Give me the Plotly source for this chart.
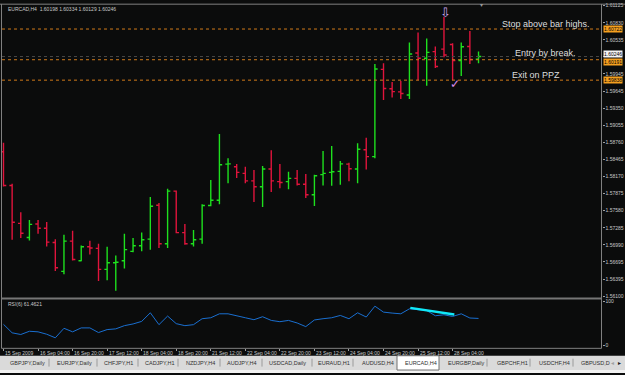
import plotly.graph_objects as go

W, H = 625, 375

# ---------------- data ----------------
bar_open = [1.58600, 1.58016, 1.57362, 1.57117, 1.57350, 1.57277, 1.57031, 1.56532, 1.57055, 1.56714,
            1.56958, 1.56929, 1.56566, 1.56680, 1.56714, 1.56878, 1.56975, 1.57089, 1.57675, 1.57009,
            1.57919, 1.57202, 1.57009, 1.57089, 1.57670, 1.57760, 1.58386, 1.58340, 1.58226, 1.58096,
            1.57994, 1.58301, 1.58084, 1.58084, 1.58140, 1.58038, 1.57857, 1.58204, 1.58243, 1.58260,
            1.58386, 1.58301, 1.58635, 1.58516, 1.60024, 1.59690, 1.59636, 1.59580, 1.60307, 1.60217,
            1.60331, 1.60375, 1.60455, 1.60177, 1.60421, 1.60198]
bar_high = [1.58755, 1.58045, 1.57555, 1.57419, 1.57419, 1.57385, 1.57089, 1.57163, 1.57236, 1.56980,
            1.57060, 1.57009, 1.56958, 1.56805, 1.57180, 1.57107, 1.57202, 1.57816, 1.57714, 1.57960,
            1.57931, 1.57350, 1.57248, 1.57692, 1.58113, 1.58908, 1.58488, 1.58386, 1.58340, 1.58284,
            1.58352, 1.58625, 1.58386, 1.58255, 1.58284, 1.58215, 1.58204, 1.58613, 1.58698, 1.58442,
            1.58408, 1.58749, 1.58840, 1.60119, 1.60131, 1.59807, 1.59824, 1.60490, 1.60660, 1.60558,
            1.60421, 1.60933, 1.60478, 1.60490, 1.60689, 1.60334]
bar_low = [1.57999, 1.57078, 1.57107, 1.57066, 1.57180, 1.56963, 1.56537, 1.56480, 1.56719, 1.56707,
           1.56822, 1.56366, 1.56378, 1.56196, 1.56583, 1.56861, 1.56878, 1.56907, 1.56936, 1.56936,
           1.57192, 1.56992, 1.56963, 1.57009, 1.57658, 1.57692, 1.58055, 1.58147, 1.58055, 1.57731,
           1.57646, 1.57902, 1.57970, 1.57953, 1.58016, 1.57799, 1.57663, 1.58016, 1.58011, 1.58028,
           1.58089, 1.58055, 1.58294, 1.58488, 1.59495, 1.59539, 1.59512, 1.59512, 1.59836, 1.59739,
           1.60046, 1.60234, 1.59836, 1.59910, 1.60119, 1.60129]
bar_close = [1.58016, 1.57380, 1.57192, 1.57345, 1.57277, 1.57038, 1.56595, 1.57055, 1.56736, 1.56958,
             1.56936, 1.56566, 1.56680, 1.56690, 1.56907, 1.56975, 1.57078, 1.57658, 1.57009, 1.57919,
             1.57202, 1.57009, 1.57078, 1.57670, 1.57760, 1.58374, 1.58391, 1.58243, 1.58096, 1.57994,
             1.58301, 1.58096, 1.58067, 1.58140, 1.58038, 1.57857, 1.58186, 1.58226, 1.58255, 1.58391,
             1.58306, 1.58642, 1.58516, 1.60030, 1.59693, 1.59640, 1.59607, 1.60290, 1.60217, 1.60319,
             1.60075, 1.60273, 1.60177, 1.60416, 1.60194, 1.60246]
rsi_values = [48.1, 29.0, 25.2, 32.5, 31.2, 25.8, 17.8, 39.2, 31.2, 40.1,
              40.1, 29.6, 36.3, 37.9, 45.2, 49.0, 54.8, 74.2, 47.4, 66.8,
              49.7, 45.2, 47.4, 60.8, 63.0, 71.9, 71.9, 68.2, 63.0, 58.6,
              65.3, 57.0, 54.1, 57.0, 51.2, 43.0, 58.0, 60.8, 63.0, 68.2,
              60.8, 74.2, 64.6, 89.1, 75.7, 73.5, 71.9, 83.1, 80.8, 79.3,
              67.5, 69.7, 65.9, 71.9, 62.4, 61.46]
bars = list(range(len(bar_open)))

time_tick_bars = [0, 4, 8, 12, 16, 20, 24, 28, 32, 36, 40, 44, 48, 52]
time_tick_labels = ["15 Sep 2009", "16 Sep 04:00", "16 Sep 20:00", "17 Sep 12:00", "18 Sep 04:00",
                    "18 Sep 20:00", "21 Sep 12:00", "22 Sep 04:00", "22 Sep 20:00", "23 Sep 12:00",
                    "24 Sep 04:00", "24 Sep 20:00", "25 Sep 12:00", "28 Sep 04:00"]
price_ticks = [1.61125, 1.60830, 1.60535, 1.60240, 1.59945, 1.59645, 1.59350, 1.59055, 1.58760,
               1.58465, 1.58170, 1.57875, 1.57580, 1.57285, 1.56990, 1.56695, 1.56395, 1.56100]
# the 1.60240 label is covered by the bid-price tag in the screenshot
price_tick_text = ["1.61125", "1.60830", "1.60535", "", "1.59945", "1.59645", "1.59350", "1.59055",
                   "1.58760", "1.58465", "1.58170", "1.57875", "1.57580", "1.57285", "1.56990",
                   "1.56695", "1.56395", "1.56100"]

hline_levels = [1.60722, 1.60191, 1.59838]
bid_price = 1.60246
rsi_trend_x = [47.1, 52.2]
rsi_trend_y = [85.3, 70.4]

tab_names = ["GBPJPY,Daily", "EURJPY,Daily", "CHFJPY,H1", "CADJPY,H1", "NZDJPY,H4", "AUDJPY,H4",
             "USDCAD,Daily", "EURAUD,H1", "AUDUSD,H4", "EURCAD,H4", "EURGBP,Daily", "GBPCHF,H1",
             "USDCHF,H4", "GBPUSD,D"]
tab_x = [8, 55, 102, 143, 184, 225, 267, 316, 360, 403, 446, 495, 537, 579]
tab_sep_x = [49, 97, 138, 178, 220, 262, 312, 353, 487, 530, 573]

# ---------------- helpers (pixel -> paper) ----------------
def pxx(x):
    return x / W

def pxy(y):
    return 1 - y / H

BG = "#0b0c0c"
GRID = "#808080"
TXT = "#c8c8c8"
FONT = "Liberation Sans, Arial, sans-serif"

fig = go.Figure()
fig.add_trace(go.Ohlc(
    x=bars, open=bar_open, high=bar_high, low=bar_low, close=bar_close,
    increasing=dict(line=dict(color="#1ee01e", width=1.4)),
    decreasing=dict(line=dict(color="#e0143c", width=1.4)),
    tickwidth=0.32, xaxis="x", yaxis="y", hoverinfo="skip", showlegend=False))
fig.add_trace(go.Scatter(x=bars, y=rsi_values, mode="lines", xaxis="x2", yaxis="y2",
                         line=dict(color="#1a6fd0", width=1), hoverinfo="skip", showlegend=False))
fig.add_trace(go.Scatter(x=rsi_trend_x, y=rsi_trend_y, mode="lines", xaxis="x2", yaxis="y2",
                         line=dict(color="#10e8f8", width=2.5), hoverinfo="skip", showlegend=False))

xr = [-0.174, 69.24]
xdom = [pxx(2), pxx(601.5)]
fig.update_layout(
    width=W, height=H, margin=dict(l=0, r=0, t=0, b=0),
    paper_bgcolor=BG, plot_bgcolor=BG,
    font=dict(family=FONT, color=TXT, size=5),
    xaxis=dict(domain=xdom, range=xr, showgrid=False, zeroline=False, showticklabels=False,
               rangeslider=dict(visible=False), anchor="y", fixedrange=True),
    yaxis=dict(domain=[pxy(298.5), pxy(2)], range=[1.560795, 1.611378], side="right",
               showgrid=False, zeroline=False, tickvals=price_ticks,
               ticktext=price_tick_text, ticks="outside", ticklen=2,
               tickcolor="#a0a0a0", tickfont=dict(size=5, color=TXT, family=FONT), anchor="x"),
    xaxis2=dict(domain=xdom, range=xr, showgrid=False, zeroline=False, showticklabels=False,
                ticks="outside", ticklen=2, tickcolor="#a0a0a0", tickvals=time_tick_bars,
                anchor="y2"),
    yaxis2=dict(domain=[pxy(349.5), pxy(300.5)], range=[-4.9, 104.2], side="right",
                showgrid=False, zeroline=False, tickvals=[0, 100], ticktext=["0", "100"],
                ticks="outside", ticklen=2, tickcolor="#a0a0a0",
                tickfont=dict(size=5, color=TXT, family=FONT), anchor="x2"),
)

shapes = []
# horizontal dotted lines
for lv in hline_levels:
    shapes.append(dict(type="line", xref="paper", yref="y", x0=pxx(2), x1=pxx(601.5), y0=lv, y1=lv,
                       line=dict(color="#d07a1a", width=1, dash="dot")))
shapes.append(dict(type="line", xref="paper", yref="y", x0=pxx(2), x1=pxx(601.5), y0=bid_price,
                   y1=bid_price, line=dict(color="#4a4a4a", width=1, dash="dot")))
# frame
shapes += [
    dict(type="line", xref="paper", yref="paper", x0=0, x1=1, y0=pxy(1.2), y1=pxy(1.2),
         line=dict(color=GRID, width=1)),
    dict(type="line", xref="paper", yref="paper", x0=pxx(1.5), x1=pxx(1.5), y0=pxy(1), y1=pxy(350),
         line=dict(color=GRID, width=1)),
    dict(type="line", xref="paper", yref="paper", x0=pxx(601.5), x1=pxx(601.5), y0=pxy(1),
         y1=pxy(350), line=dict(color=GRID, width=1)),
    dict(type="rect", xref="paper", yref="paper", x0=pxx(1.5), x1=pxx(601.5), y0=pxy(300.6),
         y1=pxy(298.4), fillcolor="#767676", line=dict(width=0)),
    dict(type="line", xref="paper", yref="paper", x0=pxx(1.5), x1=pxx(601.5), y0=pxy(350),
         y1=pxy(350), line=dict(color=GRID, width=1)),
    # tab bar
    dict(type="rect", xref="paper", yref="paper", x0=0, x1=1, y0=pxy(375), y1=pxy(357.5),
         fillcolor="#dadada", line=dict(width=0)),
    dict(type="rect", xref="paper", yref="paper", x0=0, x1=1, y0=pxy(375), y1=pxy(372),
         fillcolor="#f2f2f2", line=dict(width=0)),
    dict(type="rect", xref="paper", yref="paper", x0=pxx(397), x1=pxx(439), y0=pxy(372),
         y1=pxy(357.5), fillcolor="#ffffff", line=dict(color="#707070", width=1)),
]
for sx in tab_sep_x:
    shapes.append(dict(type="line", xref="paper", yref="paper", x0=pxx(sx), x1=pxx(sx),
                       y0=pxy(368.5), y1=pxy(360.5), line=dict(color="#9a9a9a", width=1)))
fig.update_layout(shapes=shapes)

ann = []
def text(x, y, t, size=5, color=TXT, xanchor="left", **kw):
    ann.append(dict(xref="paper", yref="paper", x=pxx(x), y=pxy(y), text=t, showarrow=False,
                    xanchor=xanchor, yanchor="middle", font=dict(size=size, color=color, family=FONT),
                    **kw))

text(6, 6.5, "EURCAD,H4  1.60198 1.60334 1.60129 1.60246")
text(5.5, 305.3, "RSI(6) 61.4621")
text(500, 21.5, "Stop above bar highs.", size=9, color="#dedede")
text(512.5, 50.5, "Entry by break.", size=9, color="#dedede")
text(510, 72.5, "Exit on PPZ", size=9, color="#dedede")
text(445.5, 9.5, "⇩", size=13, color="#caa6ee", xanchor="center")
text(455, 82.5, "✓", size=12, color="#d888e8", xanchor="center")
text(481.5, 2.5, "▾", size=6, color="#9a9a9a", xanchor="center")

for b, lab in zip(time_tick_bars, time_tick_labels):
    ann.append(dict(xref="x2", yref="paper", x=b, y=pxy(354.8), text=lab, showarrow=False,
                    xanchor="left", xshift=-0.5, yanchor="middle",
                    font=dict(size=5, color=TXT, family=FONT)))

for tx, name in zip(tab_x, tab_names):
    text(tx, 365, name, size=5.5, color="#303030")
text(612, 365, "◄", size=5, color="#a0a0a0", xanchor="center")
text(619.5, 365, "►", size=5, color="#202020", xanchor="center")

# price tags on the right axis
ann.append(dict(xref="paper", yref="y", x=pxx(603), y=bid_price, yshift=2.5, text="1.60246",
                showarrow=False, xanchor="left", yanchor="middle", bgcolor="#f4f4f4", borderpad=0,
                font=dict(size=5, color="#000000", family=FONT)))
tag_shift = [0, -2.2, 0]
for lv, sh in zip(hline_levels, tag_shift):
    ann.append(dict(xref="paper", yref="y", x=pxx(603), y=lv, yshift=sh, text="%.5f" % lv,
                    showarrow=False, xanchor="left", yanchor="middle", bgcolor="#f5a020",
                    borderpad=0, font=dict(size=5, color="#000000", family=FONT)))
fig.update_layout(annotations=ann)

fig.write_html("out.html")
